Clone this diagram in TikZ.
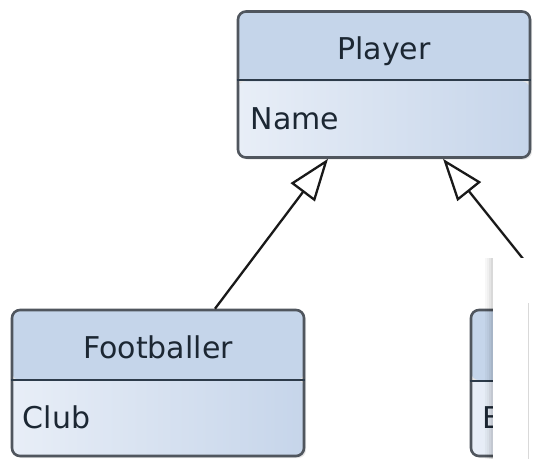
\documentclass[tikz,border=0pt]{standalone}
\usepackage{fontspec}
\setmainfont{DejaVu Sans}
\usetikzlibrary{arrows.meta,shadows}
\definecolor{headfill}{HTML}{C5D5EA}
\definecolor{bodylight}{HTML}{E8EEF7}
\definecolor{bodydark}{HTML}{C6D5EA}
\definecolor{bordercol}{HTML}{50565E}
\definecolor{dividercol}{HTML}{2D3B4A}
\definecolor{txtcol}{HTML}{1C2733}
\tikzset{
  classbox/.style={rectangle, rounded corners=8pt, draw=bordercol, line width=2.6pt,
    minimum width=292pt, minimum height=146pt, inner sep=0pt,
    drop shadow={opacity=0.2, shadow xshift=2pt, shadow yshift=-2pt},
    path picture={
      \fill[headfill] (path picture bounding box.north west) rectangle ([yshift=-70pt]path picture bounding box.north east);
      \shade[left color=bodylight, right color=bodydark] ([yshift=-70pt]path picture bounding box.north west) rectangle (path picture bounding box.south east);
    }},
  divider/.style={draw=dividercol, line width=2pt},
  titletext/.style={font=\fontsize{30}{36}\selectfont, text=txtcol, inner sep=0pt, anchor=base},
  attrtext/.style={font=\fontsize{30}{36}\selectfont, text=txtcol, inner sep=0pt, anchor=base west},
  inherit/.style={draw=black!90, line width=2.3pt, -{Triangle[open, length=42pt, width=30pt, fill=white]}},
}
\begin{document}
\begin{tikzpicture}[x=1pt, y=1pt]
\useasboundingbox (0,0) rectangle (534,-458);
% Player
\node[classbox] (player) at (384,-84.5) {};
\draw[divider] ([yshift=-70pt]player.north west) -- ([yshift=-70pt]player.north east);
\node[titletext] (playertitle) at ([yshift=-49pt]player.north) {Player};
\node[attrtext] (playername) at ([xshift=14pt,yshift=-119pt]player.north west) {Name};
% Footballer
\node[classbox] (footballer) at (158,-383) {};
\draw[divider] ([yshift=-71pt]footballer.north west) -- ([yshift=-71pt]footballer.north east);
\node[titletext] (fbtitle) at ([yshift=-50pt]footballer.north) {Footballer};
\node[attrtext] (fbclub) at ([xshift=12pt,yshift=-120pt]footballer.north west) {Club};
% Right class (mostly hidden)
\node[classbox] (other) at (617,-383) {};
\draw[divider] ([yshift=-72pt]other.north west) -- ([yshift=-72pt]other.north east);
\node[attrtext] (otherattr) at ([xshift=13pt,yshift=-120pt]other.north west) {B};
% connectors
\coordinate (fbtop) at ([xshift=57pt]footballer.north);
\coordinate (tipleft) at ([xshift=-56pt]player.south);
\coordinate (tipright) at ([xshift=59pt]player.south);
\coordinate (othertop) at ([xshift=-54pt]other.north);
\draw[inherit] (fbtop) -- (tipleft);
\draw[inherit] (othertop) -- (tipright);
% overlaid panel with soft shadow on its left edge
\fill[black, opacity=0.03] (485,-258) rectangle (487,-470);
\fill[black, opacity=0.06] (487,-258) rectangle (489,-470);
\fill[black, opacity=0.10] (489,-258) rectangle (491,-470);
\fill[black, opacity=0.15] (491,-258) rectangle (493,-470);
\fill[white] (493,-258) rectangle (540,-470);
\draw[black!15, line width=1pt] (528,-303) -- (528,-470);
\end{tikzpicture}
\end{document}
